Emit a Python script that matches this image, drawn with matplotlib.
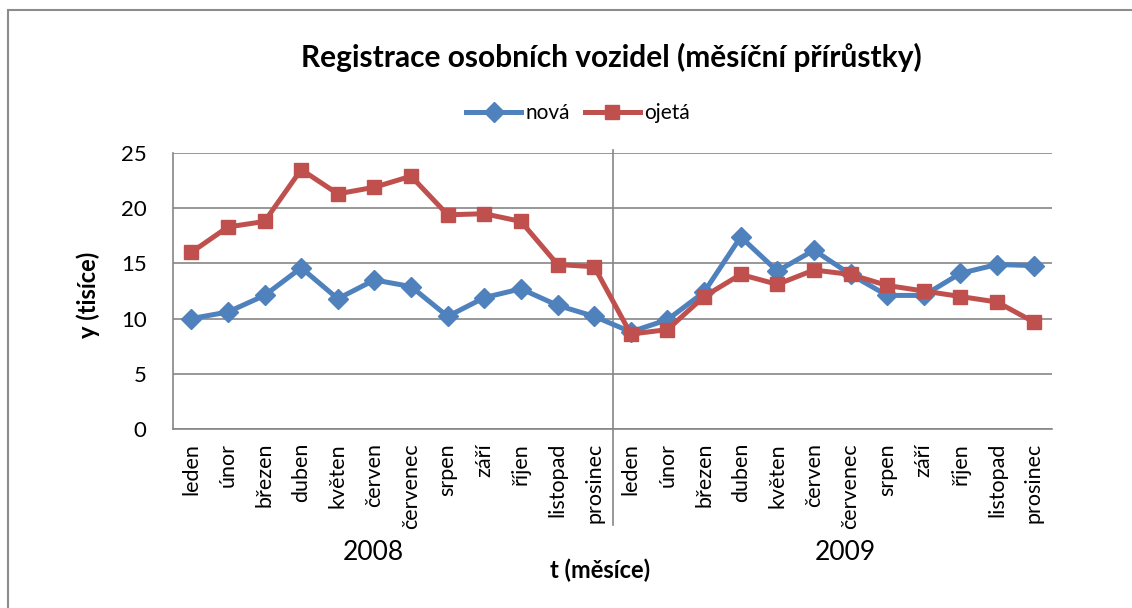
import numpy as np
import matplotlib.pyplot as plt
from matplotlib.patches import Rectangle

plt.rcParams['font.family'] = ['Lato', 'DejaVu Sans']

# data (tisíce registrací)
mesice = ['leden', 'únor', 'březen', 'duben', 'květen', 'červen',
          'červenec', 'srpen', 'září', 'říjen', 'listopad', 'prosinec']
roky = ['2008', '2009']
nova = [10.0, 10.6, 12.1, 14.6, 11.8, 13.5, 12.9, 10.2, 11.9, 12.7, 11.2, 10.2,
        8.8, 9.9, 12.4, 17.4, 14.3, 16.2, 14.0, 12.1, 12.1, 14.1, 14.9, 14.8]
ojeta = [16.0, 18.3, 18.8, 23.5, 21.3, 21.9, 22.9, 19.4, 19.5, 18.8, 14.9, 14.7,
         8.6, 9.0, 12.0, 14.0, 13.1, 14.4, 14.0, 13.0, 12.5, 12.0, 11.5, 9.7]

labels = mesice * len(roky)
x = np.arange(len(labels))

W, H = 1132, 608
fig = plt.figure(figsize=(W / 100, H / 100), dpi=100)
ax = fig.add_axes([173 / W, 1 - 429 / H, (1052 - 173) / W, (429 - 153) / H])

blue = '#4F81BD'
red = '#C0504D'
grid_c = '#868686'

ax.plot(x, nova, color=blue, lw=3.6, marker='D', ms=10, label='nová', zorder=3)
ax.plot(x, ojeta, color=red, lw=3.6, marker='s', ms=10.5, label='ojetá', zorder=3)

ax.set_xlim(-0.5, len(labels) - 0.5)
ax.set_ylim(0, 25)
ax.set_yticks(range(0, 26, 5))
ax.yaxis.grid(True, color=grid_c, lw=1.2)
ax.set_axisbelow(True)
ax.set_xticks(x)
ax.set_xticklabels(labels, rotation=90, va='top', ha='center')
ax.tick_params(axis='x', length=0, pad=10, labelsize=15.5)
ax.tick_params(axis='y', length=0, pad=19, labelsize=16)

for s in ['top', 'right']:
    ax.spines[s].set_visible(False)
for s in ['left', 'bottom']:
    ax.spines[s].set_color(grid_c)
    ax.spines[s].set_linewidth(1.2)

# oddělovač roků
ax.plot([11.5, 11.5], [-0.348, 1.01], color=grid_c, lw=1.2,
        transform=ax.get_xaxis_transform(), clip_on=False)

# popisky roků
year_pos = [373, 845]
for r, px in zip(roky, year_pos):
    fig.text(px / W, 1 - 553 / H, r, ha='center', va='center', fontsize=19)

fig.text(600 / W, 1 - 570 / H, 't (měsíce)', ha='center', va='center',
         fontsize=17, fontweight='bold')
fig.text(88 / W, 1 - 295 / H, 'y (tisíce)', ha='center', va='center',
         rotation=90, fontsize=17, fontweight='bold')
fig.text(611 / W, 1 - 57 / H, 'Registrace osobních vozidel (měsíční přírůstky)',
         ha='center', va='center', fontsize=21.5, fontweight='bold')

leg = fig.legend(loc='center', bbox_to_anchor=(578 / W, 1 - 113 / H), ncol=2,
                 frameon=False, fontsize=15, handlelength=2.65,
                 handletextpad=0.2, columnspacing=0.7, markerscale=1.0)

fig.patches.append(Rectangle((8 / W, -0.05), 1.1, 1 - 10 / H + 0.05,
                             transform=fig.transFigure, fill=False,
                             edgecolor='#8C8C8C', lw=1.5))

fig.savefig('out.png', dpi=100)
